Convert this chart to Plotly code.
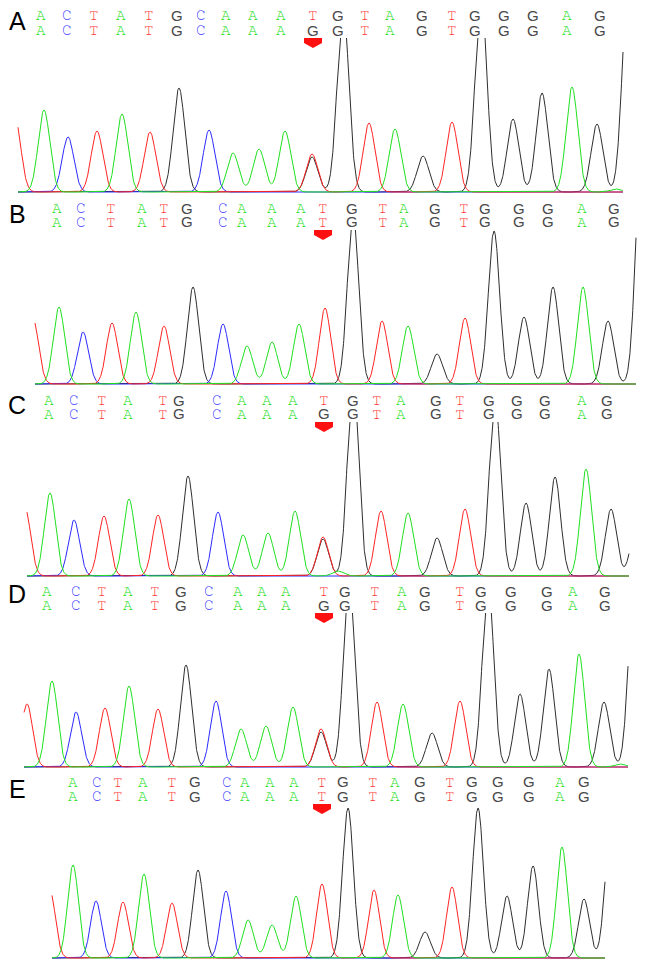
import numpy as np
import plotly.graph_objects as go

W, H = 646, 967
OFF = 8  # the page body margin pushes the plot 8px right and down

# ---- panel A ----
a_peak_x = [15, 44, 68, 97, 122, 150, 179, 209, 233, 259, 285, 312, 312, 343, 369, 395, 423, 452, 481, 513, 542, 572, 597, 616, 628]
a_peak_h = [74, 82, 55, 61, 78, 60, 104, 62, 39, 43, 61, 38, 35, 187, 69, 63, 36, 70, 199, 73, 99, 105, 68, 3, 203]
a_peak_base = "TACTATGCAAATGGTAGTGGGAGAG"
a_span = (18, 623)
a_seq_x = [41, 67, 94, 121, 149, 177, 201, 226, 253, 281, 313, 338, 365, 390, 422, 452, 475, 504, 533, 567, 600]
a_seq_top = "ACTATGCAAATGTAGTGGGAG"
a_seq_bot = "ACTATGCAAAGGTAGTGGGAG"

# ---- panel B ----
b_peak_x = [33, 59, 83, 112, 136, 164, 193, 223, 247, 272, 299, 325, 353, 382, 408, 437, 465, 494, 524, 553, 583, 608, 641]
b_peak_h = [65, 77, 52, 61, 72, 58, 97, 60, 38, 42, 60, 76, 170, 63, 58, 30, 66, 153, 67, 97, 97, 63, 218]
b_peak_base = "TACTATGCAAATGTAGTGGGAGG"
b_span = (35, 636)
b_seq_x = [57, 81, 111, 142, 164, 187, 223, 242, 272, 301, 323, 352, 383, 404, 435, 464, 485, 519, 548, 582, 614]
b_seq_top = "ACTATGCAAATGTAGTGGGAG"
b_seq_bot = "ACTATGCAAATGTAGTGGGAG"

# ---- panel C ----
c_peak_x = [25, 50, 74, 104, 129, 158, 188, 218, 243, 268, 295, 323, 323, 338, 353, 381, 408, 437, 465, 495, 526, 555, 586, 611, 636]
c_peak_h = [68, 83, 56, 60, 77, 61, 100, 64, 41, 43, 65, 39, 37, 5, 199, 65, 63, 38, 67, 178, 73, 99, 107, 67, 48]
c_peak_base = "TACTATGCAAATGAGTAGTGGGAGG"
c_span = (27, 629)
c_seq_x = [49, 74, 102, 128, 163, 179, 217, 242, 267, 293, 324, 353, 377, 401, 436, 460, 489, 517, 545, 582, 607]
c_seq_top = "ACTATGCAAATGTAGTGGGAG"
c_seq_bot = "ACTATGCAAAGGTAGTGGGAG"

# ---- panel D ----
d_peak_x = [27, 52, 76, 105, 129, 158, 186, 216, 241, 266, 293, 321, 321, 349, 377, 403, 432, 460, 488, 520, 549, 579, 604, 620, 634]
d_peak_h = [63, 86, 55, 59, 81, 58, 102, 66, 38, 41, 60, 38, 35, 187, 65, 63, 34, 66, 187, 73, 98, 113, 65, 3, 179]
d_peak_base = "TACTATGCAAATGGTAGTGGGAGAG"
d_span = (24, 628)
d_seq_x = [47, 76, 102, 128, 155, 181, 209, 238, 262, 286, 324, 345, 375, 402, 425, 460, 481, 511, 547, 573, 605]
d_seq_top = "ACTATGCAAATGTAGTGGGAG"
d_seq_bot = "ACTATGCAAAGGTAGTGGGAG"

# ---- panel E ----
e_peak_x = [50, 73, 96, 123, 144, 172, 198, 226, 248, 272, 296, 322, 348, 374, 398, 425, 452, 478, 507, 533, 562, 584, 610]
e_peak_h = [67, 93, 57, 56, 84, 55, 88, 67, 38, 33, 62, 74, 150, 68, 63, 26, 71, 150, 62, 92, 111, 59, 117]
e_peak_base = "TACTATGCAAATGTAGTGGGAGG"
e_span = (52, 605)
e_seq_x = [73, 97, 118, 143, 172, 195, 227, 245, 270, 294, 322, 343, 373, 395, 420, 450, 472, 498, 529, 560, 584]
e_seq_top = "ACTATGCAAATGTAGTGGGAG"
e_seq_bot = "ACTATGCAAATGTAGTGGGAG"

panel_labels = ["A", "B", "C", "D", "E"]

# geometry of each panel, in page pixels: baseline, clip top, label y, letter rows y
geom = [
    dict(base=192, top=38, label_y=19.5, row1=14, row2=29, sigma=5.8),
    dict(base=384, top=230, label_y=213, row1=207, row2=221, sigma=5.6),
    dict(base=576, top=422, label_y=404, row1=399, row2=412.5, sigma=5.6),
    dict(base=767, top=613, label_y=593, row1=590, row2=604, sigma=5.6),
    dict(base=958, top=804, label_y=788, row1=780.5, row2=795, sigma=5.4),
]

panels = [
    (a_peak_x, a_peak_h, a_peak_base, a_span, a_seq_x, a_seq_top, a_seq_bot),
    (b_peak_x, b_peak_h, b_peak_base, b_span, b_seq_x, b_seq_top, b_seq_bot),
    (c_peak_x, c_peak_h, c_peak_base, c_span, c_seq_x, c_seq_top, c_seq_bot),
    (d_peak_x, d_peak_h, d_peak_base, d_span, d_seq_x, d_seq_top, d_seq_bot),
    (e_peak_x, e_peak_h, e_peak_base, e_span, e_seq_x, e_seq_top, e_seq_bot),
]

line_colors = {"G": "#2e2e2e", "C": "#2b2bff", "T": "#ff2424", "A": "#1fe01f"}
text_colors = {"G": "#484848", "C": "#3c3cff", "T": "#ff3636", "A": "#22dd22"}
MONO = "Nimbus Mono PS, FreeMono, Liberation Serif, serif"
SANS = "Liberation Sans, Arial, sans-serif"


def px_x(p):
    return (p - OFF) / W


def px_y(p):
    return 1 - (p - OFF) / H


fig = go.Figure()
annotations = []
shapes = []
layout_axes = {}

for i, (px_, ph, pb, span, sx, stop, sbot) in enumerate(panels):
    g = geom[i]
    n = "" if i == 0 else str(i + 1)
    xa, ya = "x" + n, "y" + n
    span_h = g["base"] - g["top"]
    # one data unit = one pixel; keep 2px under baseline so the line isn't cut
    layout_axes["xaxis" + n] = dict(domain=[0, 1], range=[OFF, W + OFF], visible=False, fixedrange=True)
    layout_axes["yaxis" + n] = dict(
        domain=[px_y(g["base"] + 2), px_y(g["top"])],
        range=[-2, span_h], visible=False, fixedrange=True,
    )

    xs = np.arange(span[0], span[1] + 0.25, 0.25)
    s2 = 2 * g["sigma"] ** 2
    for base in ["G", "C", "T", "A"]:
        ys = np.zeros_like(xs)
        for x0, h0, b in zip(px_, ph, pb):
            if b == base:
                ys += h0 * np.exp(-((xs - x0) ** 2) / s2)
        fig.add_trace(go.Scatter(
            x=xs, y=ys, mode="lines", xaxis=xa, yaxis=ya,
            line=dict(color=line_colors[base], width=1),
            hoverinfo="skip", showlegend=False,
        ))

    # base calls, two rows
    for row_y, seq in ((g["row1"], stop), (g["row2"], sbot)):
        for x0, ch in zip(sx, seq):
            annotations.append(dict(
                x=px_x(x0), y=px_y(row_y + 1), xref="paper", yref="paper",
                text=ch, showarrow=False, xanchor="center", yanchor="middle",
                font=dict(family=SANS if ch == "G" else MONO,
                          size=15 if ch == "G" else 16, color=text_colors[ch]),
            ))

    annotations.append(dict(
        x=px_x(17), y=px_y(g["label_y"] + 1), xref="paper", yref="paper",
        text=panel_labels[i], showarrow=False, xanchor="center", yanchor="middle",
        font=dict(family=SANS, size=25, color="black"),
    ))

    # red marker over the variant position
    shapes.append(dict(
        type="path", xref="paper", yref="paper",
        xsizemode="pixel", ysizemode="pixel",
        xanchor=px_x(sx[10]), yanchor=px_y(g["top"]),
        path="M -9,0 L 9,0 L 9,-5 L 0,-10 L -9,-5 Z",
        fillcolor="#ff1010", line=dict(width=0),
    ))

fig.update_layout(
    width=W, height=H,
    margin=dict(l=0, r=0, t=0, b=0),
    paper_bgcolor="white", plot_bgcolor="white",
    annotations=annotations, shapes=shapes,
    showlegend=False,
    **layout_axes,
)

fig.write_html("out.html", config={"displayModeBar": False})
